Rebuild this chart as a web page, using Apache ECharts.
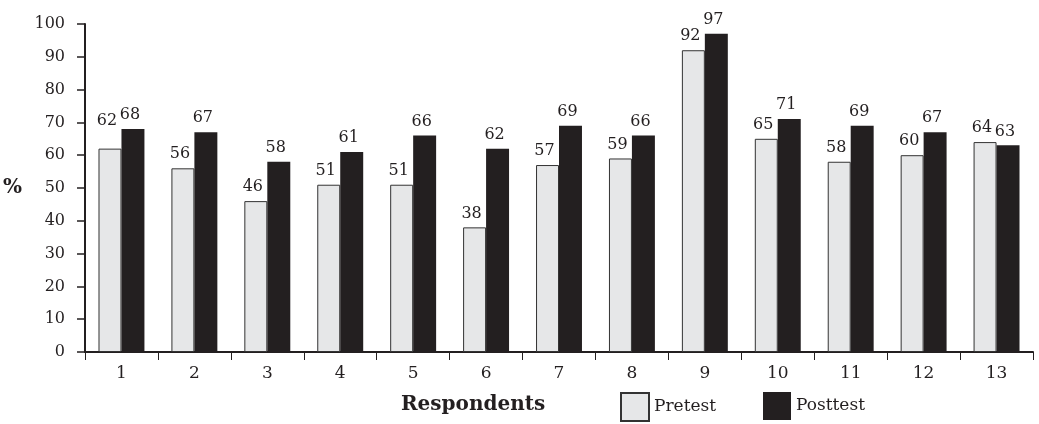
<!DOCTYPE html>
<html>
<head>
<meta charset="utf-8">
<script src="https://cdn.jsdelivr.net/npm/echarts@6/dist/echarts.min.js"></script>
<style>html,body{margin:0;padding:0;background:#fff}#c{width:1039px;height:424px}</style>
</head>
<body>
<div id="c"></div>
<script>
const categories = ['1','2','3','4','5','6','7','8','9','10','11','12','13'];
const pretest = [62,56,46,51,51,38,57,59,92,65,58,60,64];
const posttest = [68,67,58,61,66,62,69,66,97,71,69,67,63];
const yTicks = [0,10,20,30,40,50,60,70,80,90,100];

const FONT = '"DejaVu Serif", "Liberation Serif", serif';
const INK = '#231f20';
const labelStyle = { show: true, position: 'top', distance: 6, offset: [-3, 0], fontFamily: FONT, fontSize: 16, color: INK };
const chart = echarts.init(document.getElementById('c'));
chart.setOption({
  animation: false,
  textStyle: { fontFamily: FONT, color: INK },
  grid: { left: 83, right: 6, top: 24, bottom: 72 },
  title: {
    text: 'Respondents', left: 396, top: 390,
    textStyle: { fontFamily: FONT, fontSize: 20, fontWeight: 'bold', color: INK }
  },
  legend: [
    { data: ['Pretest'], left: 615, top: 387, icon: 'rect', itemWidth: 28, itemHeight: 28, itemGap: 0,
      textStyle: { fontFamily: FONT, fontSize: 17, color: INK } },
    { data: ['Posttest'], left: 758, top: 387, icon: 'rect', itemWidth: 28, itemHeight: 28, itemGap: 0,
      textStyle: { fontFamily: FONT, fontSize: 17, color: INK } }
  ],
  xAxis: {
    type: 'category',
    data: categories,
    axisLine: { lineStyle: { color: INK, width: 2 } },
    axisTick: { show: true, length: 8, lineStyle: { color: INK, width: 1 } },
    axisLabel: { fontFamily: FONT, fontSize: 17, color: INK, margin: 13 }
  },
  yAxis: {
    type: 'value',
    min: 0, max: 100, interval: 10,
    name: '%',
    nameLocation: 'middle',
    nameRotate: 0,
    nameGap: 63,
    nameTextStyle: { fontFamily: FONT, fontSize: 20, fontWeight: 'bold', color: INK },
    splitLine: { show: false },
    axisLine: { show: true, lineStyle: { color: INK, width: 2 } },
    axisTick: { show: true, length: 8, lineStyle: { color: INK, width: 1.5 } },
    axisLabel: { fontFamily: FONT, fontSize: 16, color: INK, margin: 20,
      formatter: v => yTicks.includes(v) ? String(v) : '' }
  },
  series: [
    { name: 'Pretest', type: 'bar',
      data: pretest.map((v, i) => i === 0 ? { value: v, label: { distance: 20 } } : v),
      barWidth: '31.5%', barGap: '0%',
      itemStyle: { color: '#e6e7e8', borderColor: '#333', borderWidth: 1 },
      label: labelStyle },
    { name: 'Posttest', type: 'bar', data: posttest, barWidth: '31.5%', barGap: '0%',
      itemStyle: { color: INK },
      label: labelStyle }
  ]
});
</script>
</body>
</html>
